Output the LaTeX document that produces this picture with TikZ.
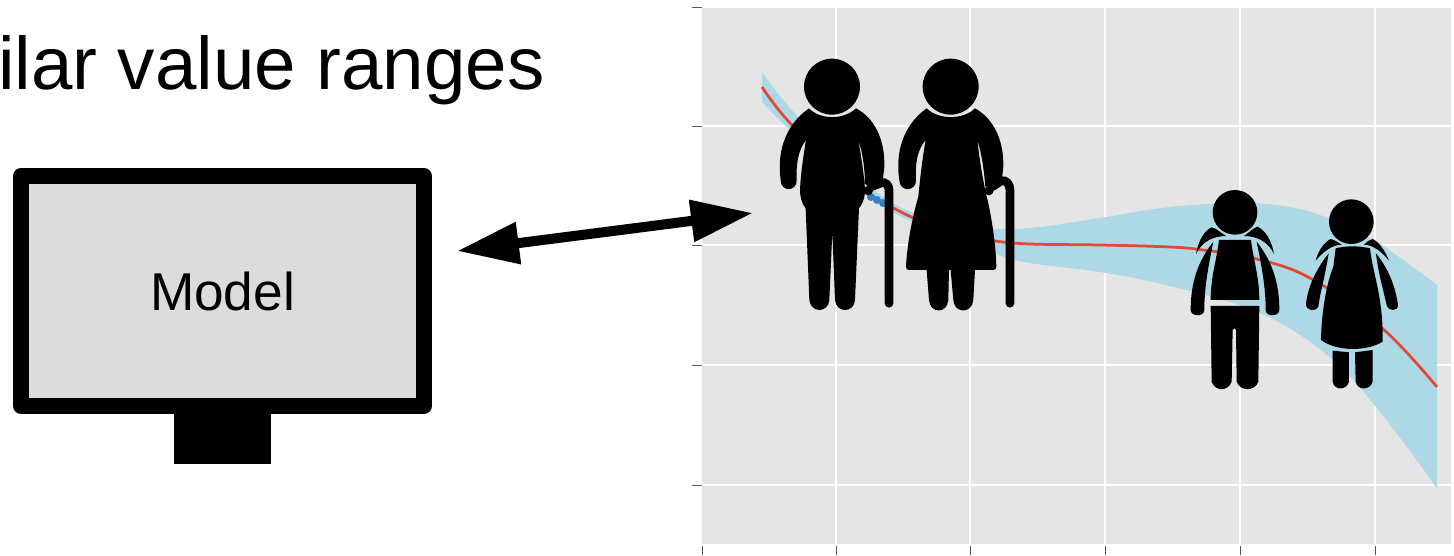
\documentclass[tikz,border=0pt]{standalone}
\usepackage{fontspec}
\setmainfont{Liberation Sans}
\usetikzlibrary{arrows.meta}
\definecolor{panelgray}{HTML}{E5E5E5}
\definecolor{bandblue}{HTML}{ADD8E6}
\definecolor{fitred}{HTML}{E34A33}
\definecolor{dotblue}{HTML}{3182BD}
\definecolor{screengray}{HTML}{DCDCDC}
\tikzset{
  gridline/.style={white,line width=0.025cm},
  tickline/.style={black!65,line width=0.02cm},
  figpart/.style={fill=black,draw=none},
  cane/.style={draw=black,line width=0.173cm,line cap=round},
  screenbox/.style={draw=black,fill=screengray,line width=0.32cm,line join=round,
    minimum width=8.06cm,minimum height=4.6cm,font=\fontsize{30.3}{36}\selectfont},
}
\begin{document}
\begin{tikzpicture}[x=0.02cm,y=-0.02cm]
      \useasboundingbox (0,0) rectangle (1454,555);
      \clip (0,0) rectangle (1454,555);
      % plot panel
      \fill[panelgray] (702,8) rectangle (1451,544);
      \foreach \y in {126,245,365,485} {
        \draw[gridline] (702,\y) -- (1451,\y);
        \draw[tickline] (692,\y) -- (702,\y);
      }
      \draw[tickline] (692,7) -- (702,7);
      \foreach \x in {836,970,1105,1240,1375} {
        \draw[gridline] (\x,8) -- (\x,544);
        \draw[tickline] (\x,546) -- (\x,555);
      }
      \draw[tickline] (702,546) -- (702,555);
      % band and fit
      \fill[bandblue] plot[smooth,tension=0.6] coordinates {(762,72) (790,108) (850,170) (902,208) (960,226) (1000,229) (1040,227) (1100,218) (1170,207) (1240,203) (1290,207) (1330,219) (1380,244) (1437,285)}
        -- plot[smooth,tension=0.6] coordinates {(1437,488) (1380,412) (1330,357) (1260,313) (1170,286) (1100,272) (1030,263) (993,253) (902,217) (850,182) (790,130) (762,102)} -- cycle;
      \draw[fitred,line width=0.055cm] plot[smooth,tension=0.6] coordinates {(762,87) (790,123) (850,180) (903,213) (960,235) (995,241) (1030,244) (1100,245) (1170,247) (1203,250) (1253,258) (1310,278) (1383,329) (1437,387)};
      \foreach \x/\y in {871/197,877/200,883/203}
        \fill[dotblue] (\x,\y) circle (4);
      % old man and old woman
      \begin{scope}[shift={(760,40)},scale=0.3333]
        \fill[figpart] (216,140) circle (84);
        \fill[figpart] (147,205) .. controls (180,240) and (252,240) .. (288,205)
          .. controls (345,235) and (375,300) .. (373,380) -- (368,425)
          -- (325,440) -- (315,430) .. controls (314,380) and (308,340) .. (295,300)
          .. controls (305,360) and (315,420) .. (315,460) .. controls (313,480) and (305,495) .. (297,505)
          -- (285,780) .. controls (283,820) and (228,820) .. (225,780) -- (217,575)
          -- (208,780) .. controls (205,820) and (152,820) .. (148,780) -- (137,505)
          .. controls (125,490) and (120,470) .. (120,450) .. controls (122,400) and (130,350) .. (138,300)
          .. controls (115,330) and (108,370) .. (110,420) .. controls (112,455) and (62,458) .. (62,420)
          .. controls (55,370) and (55,270) .. (147,205) -- cycle;
        \fill[figpart] (325,452) circle (14);
        \draw[cane] (387,790) -- (387,450) .. controls (387,435) and (375,425) .. (365,428) -- (335,440);
        \fill[figpart] (572,140) circle (84);
        \fill[figpart] (500,205) .. controls (535,240) and (610,240) .. (645,205)
          .. controls (700,235) and (732,300) .. (730,380) -- (725,425)
          -- (685,440) -- (676,440) .. controls (672,390) and (665,340) .. (652,300)
          .. controls (660,370) and (670,430) .. (685,490) .. controls (700,560) and (708,630) .. (709,680)
          .. controls (709,687) and (705,690) .. (700,690) -- (645,690) -- (640,780)
          .. controls (637,822) and (583,822) .. (580,780) -- (572,690) -- (567,690) -- (565,780)
          .. controls (562,822) and (510,822) .. (507,780) -- (500,690) -- (447,690)
          .. controls (441,690) and (438,687) .. (438,680) .. controls (442,610) and (455,540) .. (475,470)
          .. controls (482,400) and (488,350) .. (497,300) .. controls (472,330) and (465,370) .. (468,420)
          .. controls (470,455) and (418,458) .. (418,420) .. controls (410,370) and (410,270) .. (500,205) -- cycle;
        \fill[figpart] (687,452) circle (14);
        \draw[cane] (750,790) -- (750,450) .. controls (750,432) and (738,420) .. (725,422) -- (697,440);
      \end{scope}
      % boy and girl
      \begin{scope}[shift={(1170,170)},scale=0.3333]
        \fill[figpart] (195,127) circle (67);
        \fill[figpart] (78,252) .. controls (85,210) and (105,180) .. (125,172) .. controls (140,175) and (155,190) .. (168,198)
          .. controls (130,198) and (95,215) .. (78,252) -- cycle;
        \fill[figpart] (312,252) .. controls (305,210) and (285,180) .. (262,170) .. controls (248,175) and (235,190) .. (222,198)
          .. controls (260,198) and (295,215) .. (312,252) -- cycle;
        \fill[figpart] (130,215) .. controls (95,260) and (62,320) .. (62,420) .. controls (62,440) and (102,442) .. (103,420)
          .. controls (103,350) and (115,290) .. (130,215) -- cycle;
        \fill[figpart] (260,215) .. controls (295,260) and (328,320) .. (328,420) .. controls (328,440) and (288,442) .. (287,420)
          .. controls (287,350) and (275,290) .. (260,215) -- cycle;
        \fill[figpart] (147,210) -- (243,210) .. controls (250,270) and (268,320) .. (268,390) -- (122,390)
          .. controls (122,320) and (140,270) .. (147,210) -- cycle;
        \fill[figpart] (122,408) -- (268,408) -- (265,635) .. controls (255,665) and (210,665) .. (200,635)
          -- (198,480) .. controls (197,473) and (189,473) .. (188,480) -- (185,635)
          .. controls (175,665) and (135,665) .. (125,635) -- cycle;
        \fill[figpart] (544,155) circle (67);
        \fill[figpart] (437,272) .. controls (445,240) and (465,215) .. (482,207) .. controls (495,210) and (505,218) .. (515,224)
          .. controls (485,225) and (460,245) .. (437,272) -- cycle;
        \fill[figpart] (657,272) .. controls (645,240) and (625,215) .. (608,207) .. controls (597,210) and (590,216) .. (582,224)
          .. controls (610,225) and (635,245) .. (657,272) -- cycle;
        \fill[figpart] (497,235) .. controls (530,227) and (565,227) .. (600,235) .. controls (610,320) and (640,380) .. (638,515)
          .. controls (590,545) and (500,545) .. (453,510) .. controls (455,420) and (470,340) .. (490,290) -- cycle;
        \fill[figpart] (476,250) .. controls (445,290) and (415,340) .. (408,402) .. controls (408,425) and (440,425) .. (445,410)
          .. controls (450,370) and (465,320) .. (476,250) -- cycle;
        \fill[figpart] (618,250) .. controls (650,290) and (675,340) .. (684,405) .. controls (684,425) and (655,425) .. (650,405)
          .. controls (640,360) and (625,310) .. (618,250) -- cycle;
        \fill[figpart] (488,542) -- (537,547) -- (537,635) .. controls (530,662) and (492,662) .. (488,635) -- cycle;
        \fill[figpart] (555,547) -- (608,540) -- (608,635) .. controls (600,662) and (562,662) .. (557,635) -- cycle;
      \end{scope}
      % title
      \node[anchor=base east,inner sep=0pt,font=\fontsize{42.4}{50}\selectfont] (title) at (545,89) {ilar value ranges};
      % monitor
      \node[screenbox] (model) at (222.5,291) {Model};
      \fill[black] (174,414) rectangle (271,464);
      % arrow
      \coordinate (arrowleft) at (457,251);
      \coordinate (arrowright) at (753,213);
      \draw[{Triangle[length=1.24cm,width=0.8cm]}-{Triangle[length=1.24cm,width=0.8cm]},line width=0.2cm] (arrowleft) -- (arrowright);
    \end{tikzpicture}
\end{document}
